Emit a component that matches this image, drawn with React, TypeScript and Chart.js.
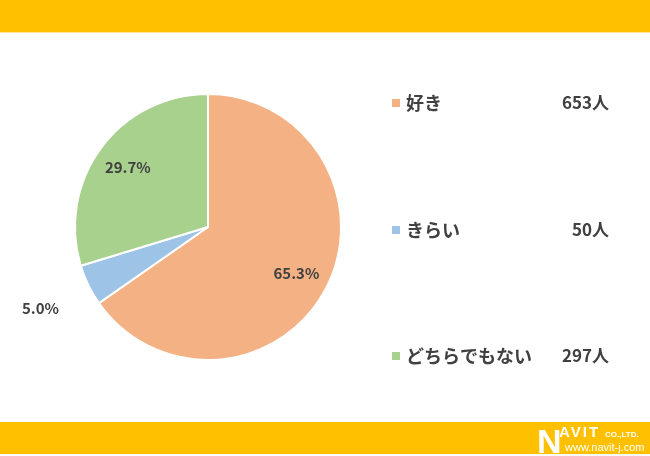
import React, { useEffect, useRef } from "react";
import { Chart, registerables } from "chart.js";

Chart.register(...registerables);

const categories = ["好き", "きらい", "どちらでもない"];
const counts = [653, 50, 297];
const countLabels = ["653人", "50人", "297人"];
const percentLabels = ["65.3%", "5.0%", "29.7%"];
const colors = ["#F4B183", "#9DC3E6", "#A9D18E"];

const W = 650;
const H = 456;
const FONT = '"Noto Sans CJK JP", "Noto Sans", sans-serif';

const decorPlugin = {
  id: "decor",
  beforeDraw(chart: any) {
    const ctx = chart.ctx;
    ctx.save();
    ctx.fillStyle = "#FFFFFF";
    ctx.fillRect(0, 0, W, H);
    ctx.fillStyle = "#FFC000";
    ctx.fillRect(0, 0, W, 32);
    ctx.fillStyle = "#FFE699";
    ctx.fillRect(0, 32, W, 1);
    ctx.fillStyle = "#FFC000";
    ctx.fillRect(0, 422, W, 32);
    ctx.restore();
  },
  afterDraw(chart: any) {
    const ctx = chart.ctx;
    const meta = chart.getDatasetMeta(0);
    ctx.save();
    // percentage labels
    ctx.fillStyle = "#404040";
    ctx.font = `bold 15px ${FONT}`;
    ctx.textAlign = "center";
    ctx.textBaseline = "middle";
    meta.data.forEach((arc: any, i: number) => {
      const mid = (arc.startAngle + arc.endAngle) / 2;
      const r = arc.outerRadius;
      const f = i === 1 ? 1.4 : 0.75;
      const x = arc.x + Math.cos(mid) * r * f;
      const y = arc.y + Math.sin(mid) * r * f;
      ctx.fillText(percentLabels[i], x, y);
    });
    // legend
    const rows = [103, 230, 356];
    categories.forEach((c, i) => {
      const y = rows[i];
      ctx.fillStyle = colors[i];
      ctx.fillRect(392, y - 4, 8, 8);
      ctx.fillStyle = "#404040";
      ctx.font = `bold 18px ${FONT}`;
      ctx.textAlign = "left";
      ctx.fillText(c, 406, y);
      ctx.textAlign = "right";
      ctx.font = `bold 17px ${FONT}`;
      ctx.fillText(countLabels[i], 609, y);
    });
    // logo
    ctx.fillStyle = "#FFFFFF";
    ctx.textAlign = "left";
    ctx.textBaseline = "alphabetic";
    ctx.font = `bold 34px "Liberation Sans", sans-serif`;
    ctx.fillText("N", 537, 453);
    ctx.font = `bold 15px "Liberation Sans", sans-serif`;
    (ctx as any).letterSpacing = "2px";
    ctx.fillText("AVIT", 559, 437);
    (ctx as any).letterSpacing = "0px";
    ctx.font = `bold 8px "Liberation Sans", sans-serif`;
    ctx.fillText("CO.,LTD.", 605, 437);
    ctx.font = `11px "Liberation Sans", sans-serif`;
    ctx.fillText("www.navit-j.com", 565, 451);
    ctx.restore();
  },
};

export default function App() {
  const ref = useRef<HTMLCanvasElement | null>(null);
  useEffect(() => {
    if (!ref.current) return;
    const chart = new Chart(ref.current, {
      type: "pie",
      data: {
        labels: categories,
        datasets: [
          {
            data: counts,
            backgroundColor: colors,
            borderColor: "#FFFFFF",
            borderWidth: 2,
          },
        ],
      },
      options: {
        animation: false,
        responsive: false,
        maintainAspectRatio: false,
        events: [],
        layout: { padding: { left: 74, right: 308, top: 93, bottom: 95 } },
        plugins: {
          legend: { display: false },
          tooltip: { enabled: false },
          title: { display: false },
        },
      },
      plugins: [decorPlugin],
    });
    return () => chart.destroy();
  }, []);
  return (
    <div style={{ position: "fixed", left: 0, top: 0, width: W, height: H, background: "#fff" }}>
      <canvas ref={ref} width={W} height={H} style={{ width: W, height: H, display: "block" }} />
    </div>
  );
}
